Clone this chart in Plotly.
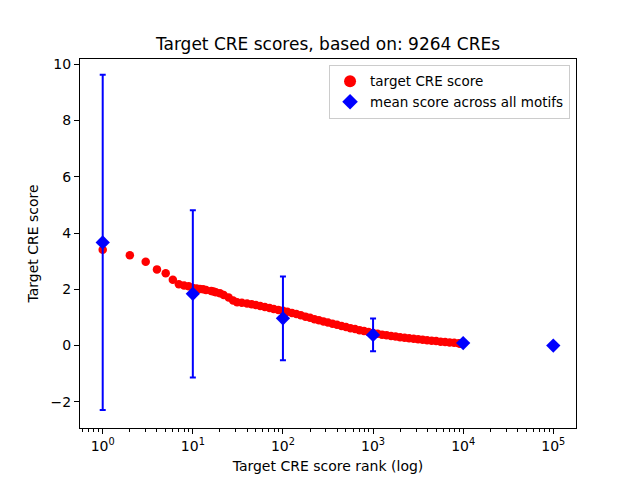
import plotly.graph_objects as go

# Red series: target CRE score by rank
ranks = [1, 2, 3, 4, 5, 6, 7, 8, 9, 10, 11, 12, 13, 14, 16, 17, 18, 20, 22, 25,
         28, 31, 35, 40, 45, 50, 56, 63, 71, 79, 89, 100, 112, 126, 141, 158,
         178, 200, 224, 251, 282, 316, 355, 398, 447, 501, 562, 631, 708, 794,
         891, 1000, 1122, 1259, 1413, 1585, 1778, 1995, 2239, 2512, 2818, 3162,
         3548, 3981, 4467, 5012, 5623, 6310, 7079, 7943, 8913, 9264]
scores = [3.41, 3.21, 2.98, 2.71, 2.57, 2.34, 2.18, 2.14, 2.11, 2.05, 2.03, 2.01,
          2.00, 1.98, 1.94, 1.92, 1.90, 1.86, 1.80, 1.71, 1.60, 1.54, 1.52, 1.50,
          1.47, 1.44, 1.41, 1.37, 1.34, 1.30, 1.27, 1.24, 1.20, 1.16, 1.12, 1.08,
          1.03, 0.99, 0.94, 0.90, 0.86, 0.82, 0.78, 0.74, 0.70, 0.66, 0.62, 0.59,
          0.55, 0.52, 0.48, 0.45, 0.42, 0.39, 0.37, 0.34, 0.32, 0.30, 0.28, 0.26,
          0.24, 0.23, 0.21, 0.19, 0.17, 0.16, 0.14, 0.13, 0.11, 0.10, 0.08, 0.07]

# Blue series: mean score across all motifs with error bars
mean_ranks = [1, 10, 100, 1000, 10000, 100000]
mean_scores = [3.67, 1.84, 0.97, 0.38, 0.09, 0.00]
mean_err = [5.96, 2.97, 1.49, 0.58, 0.03, 0.0]

xtick_vals = [1, 10, 100, 1000, 10000, 100000]
xtick_text = ["10<sup>0</sup>", "10<sup>1</sup>", "10<sup>2</sup>",
              "10<sup>3</sup>", "10<sup>4</sup>", "10<sup>5</sup>"]

minor_vals = [m * 10 ** k for k in range(-1, 6) for m in range(2, 10)]

FONT = "DejaVu Sans"

fig = go.Figure()
fig.add_trace(go.Scatter(
    x=ranks, y=scores, mode="markers", name="target CRE score",
    marker=dict(color="#ff0000", size=8.5, line=dict(width=0)),
))
fig.add_trace(go.Scatter(
    x=mean_ranks, y=mean_scores, mode="markers",
    name="mean score across all motifs",
    marker=dict(color="#0000ff", symbol="diamond", size=11, line=dict(width=0)),
    error_y=dict(type="data", array=mean_err, visible=True,
                 color="#0000ff", thickness=2, width=3),
))

axis_common = dict(
    showline=True, linecolor="black", linewidth=1, mirror=True,
    showgrid=False, zeroline=False, ticks="outside", ticklen=5,
    tickcolor="black", tickwidth=1, automargin=False,
    tickfont=dict(family=FONT, size=14, color="black"),
)

fig.update_layout(
    width=640, height=480,
    margin=dict(l=80, r=64, t=59, b=52),
    paper_bgcolor="white", plot_bgcolor="white",
    font=dict(family=FONT, size=14, color="black"),
    title=dict(text="Target CRE scores, based on: 9264 CREs",
               x=(80 + 576) / 2 / 640, xanchor="center",
               y=1 - 44 / 480, yanchor="middle", yref="container",
               font=dict(family=FONT, size=17, color="black")),
    xaxis=dict(type="log", range=[-0.252, 5.252],
               tickvals=xtick_vals, ticktext=xtick_text,
               title=dict(text="Target CRE score rank (log)", standoff=8,
                          font=dict(family=FONT, size=14)),
               minor=dict(tickvals=minor_vals, ticks="outside", ticklen=3,
                          tickcolor="black", tickwidth=1),
               **axis_common),
    yaxis=dict(range=[-2.93, 10.19], tickvals=[-2, 0, 2, 4, 6, 8, 10],
               ticktext=["\u22122", "0", "2", "4", "6", "8", "10"],
               title=dict(text="Target CRE score", standoff=8,
                          font=dict(family=FONT, size=14)),
               **axis_common),
    legend=dict(x=0.988, xanchor="right", y=0.984, yanchor="top",
                bgcolor="white", bordercolor="#cccccc", borderwidth=1,
                font=dict(family=FONT, size=13.5, color="black"),
                itemsizing="constant", tracegroupgap=0),
    showlegend=True,
)

fig.write_html("out.html",
               config={"displayModeBar": False},
               post_script="document.body.style.margin='0';"
                           "document.body.style.overflow='hidden';")
